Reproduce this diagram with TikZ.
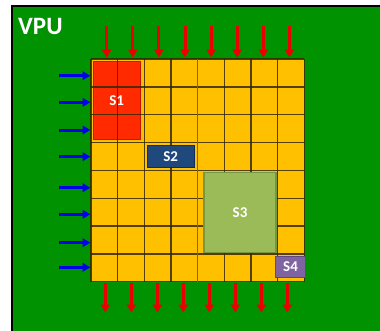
\documentclass[tikz,border=0pt]{standalone}
\usepackage{fontspec}
\setmainfont{Carlito}
\usetikzlibrary{arrows.meta}
\definecolor{bggreen}{RGB}{0,146,0}
\definecolor{cellyellow}{RGB}{255,192,0}
\definecolor{gridcol}{RGB}{55,40,0}
\definecolor{vline}{RGB}{46,117,182}
\definecolor{redarr}{RGB}{235,0,0}
\definecolor{bluearr}{RGB}{0,0,235}
\definecolor{sonefill}{RGB}{255,42,0}
\definecolor{sonedraw}{RGB}{200,20,0}
\definecolor{stwofill}{RGB}{31,73,125}
\definecolor{stwodraw}{RGB}{18,45,80}
\definecolor{sthreefill}{RGB}{155,187,89}
\definecolor{sthreedraw}{RGB}{120,150,65}
\definecolor{sfourfill}{RGB}{128,100,162}
\definecolor{sfourdraw}{RGB}{95,72,125}
\tikzset{
  sbox/.style={rectangle, inner sep=0pt, text=white, font=\fontsize{15}{17}\selectfont\bfseries},
  gridline/.style={draw=gridcol, line width=1.4pt, opacity=0.85},
  redarrow/.style={draw=redarr, line width=3pt, -{Triangle[width=9pt,length=8pt]}},
  bluearrow/.style={draw=bluearr, line width=3pt, -{Triangle[width=8.5pt,length=8pt]}},
}
\begin{document}
\begin{tikzpicture}[x=1pt,y=-1pt]
\useasboundingbox (0,0) rectangle (380,330);
\begin{scope}
  \clip (0,0) rectangle (380,330);
  \fill[white] (0,0) rectangle (380,330);
  \draw[line width=1.6pt, fill=bggreen] (12,6.2) rectangle (392,342);
\end{scope}
\node[anchor=base west, inner sep=0pt, text=white, font=\fontsize{25}{28}\selectfont\bfseries] (vpu) at (18,34.3) {VPU};
% grid fill
\fill[cellyellow] (91,59) rectangle (304.3,281.7);
% S1 under the grid lines
\node[sbox, fill=sonefill, draw=sonedraw, line width=1pt, minimum width=46.7pt, minimum height=78.3pt] (s1) at (116.7,100.8) {};
% grid lines
\foreach \i in {0,...,8} {
  \draw[gridline] ({91+\i*26.66},59) -- ({91+\i*26.66},281.7);
  \draw[gridline] (91,{59+\i*27.84}) -- (304.3,{59+\i*27.84});
}
\node[sbox] (s1label) at (s1.center) {S1};
\draw[draw=vline, line width=1.6pt] (197.6,59) -- (197.6,281.7);
% other regions
\node[sbox, fill=stwofill, draw=stwodraw, line width=1pt, minimum width=46.7pt, minimum height=22.4pt] (s2) at (170.7,156.5) {S2};
\node[sbox, fill=sthreefill, draw=sthreedraw, line width=1.3pt, minimum width=72pt, minimum height=79.6pt] (s3) at (240,212.5) {S3};
\node[sbox, fill=sfourfill, draw=sfourdraw, line width=1.2pt, minimum width=29.6pt, minimum height=20.6pt] (s4) at (290.5,267) {S4};
% red arrows (top in, bottom out)
\foreach \i in {0,...,7} {
  \coordinate (ta\i) at ({106.7+26.1*\i},26);
  \coordinate (tb\i) at ({106.7+26.1*\i},57.5);
  \draw[redarrow] (ta\i) -- (tb\i);
  \coordinate (ba\i) at ({105.3+26*\i},282.5);
  \coordinate (bb\i) at ({105.3+26*\i},312.5);
  \draw[redarrow] (ba\i) -- (bb\i);
}
% blue input arrows (left)
\foreach \y [count=\k] in {75.7,102.3,130,156.7,187.7,214.3,242.7,267.3} {
  \coordinate (la\k) at (59,\y);
  \coordinate (lb\k) at (90.5,\y);
  \draw[bluearrow] (la\k) -- (lb\k);
}
\end{tikzpicture}
\end{document}
